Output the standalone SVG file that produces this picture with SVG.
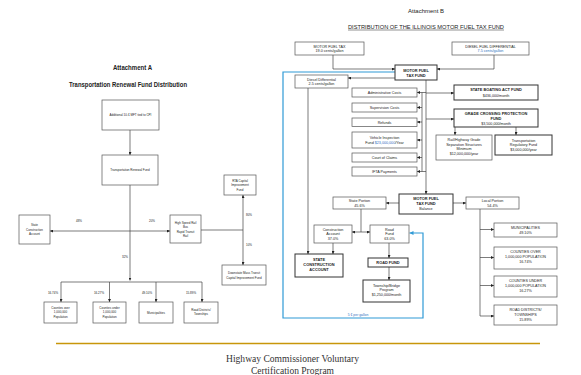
<svg xmlns="http://www.w3.org/2000/svg" width="581" height="375" viewBox="0 0 581 375">
<defs>
<marker id="ah" viewBox="0 0 6 6" refX="6" refY="3" markerWidth="3" markerHeight="3" orient="auto" markerUnits="userSpaceOnUse"><path d="M0,0 L6,3 L0,6 z" fill="#222"/></marker>
<marker id="ahb" viewBox="0 0 6 6" refX="6" refY="3" markerWidth="4" markerHeight="4" orient="auto" markerUnits="userSpaceOnUse"><path d="M0,0 L6,3 L0,6 z" fill="#2f9ad6"/></marker>
<style>
text{font-family:"Liberation Sans",Arial,sans-serif;fill:#222;text-anchor:middle}
.t{font-size:3px}
.s{font-size:3.7px}
.b{font-size:3.9px;font-weight:bold}
.h{font-size:7px;font-weight:bold}
.bl{fill:#2f6fc0}
rect{fill:#fff;stroke:#555;stroke-width:0.7}
rect.k{stroke:#333;stroke-width:1}
.c line,.c path,.c polyline{stroke:#444;stroke-width:0.7;fill:none}
.c .blue{stroke:#2f9ad6;stroke-width:1.2}
.f{font-family:"Liberation Serif","Times New Roman",serif;font-size:9.5px;fill:#333}
</style>
</defs>
<rect x="0" y="0" width="581" height="375" style="fill:#fff;stroke:none"/>

<!-- Left panel titles -->
<text class="h" x="132.5" y="70" textLength="39" lengthAdjust="spacingAndGlyphs">Attachment A</text>
<text class="h" x="128" y="86.5" textLength="118" lengthAdjust="spacingAndGlyphs">Transportation Renewal Fund Distribution</text>

<!-- Left panel connectors -->
<g class="c" id="left-connectors">
<line x1="130" y1="130" x2="130" y2="155" marker-end="url(#ah)"/>
<line x1="130" y1="185" x2="130" y2="280.5" marker-end="url(#ah)"/>
<line x1="130" y1="231" x2="50" y2="231" marker-end="url(#ah)"/>
<line x1="130" y1="231" x2="170" y2="231" marker-end="url(#ah)"/>
<line x1="201" y1="230" x2="243" y2="230"/>
<line x1="243" y1="230" x2="243" y2="195" marker-end="url(#ah)"/>
<line x1="243" y1="230" x2="243" y2="265" marker-end="url(#ah)"/>
<line x1="61" y1="282" x2="202" y2="282"/>
<line x1="61" y1="282" x2="61" y2="302" marker-end="url(#ah)"/>
<line x1="109.5" y1="282" x2="109.5" y2="302" marker-end="url(#ah)"/>
<line x1="156" y1="282" x2="156" y2="302" marker-end="url(#ah)"/>
<line x1="202" y1="282" x2="202" y2="302" marker-end="url(#ah)"/>
</g>
<g id="left-labels">
<text class="t" x="79" y="221.5">48%</text>
<text class="t" x="152" y="221.5">20%</text>
<text class="t" x="125" y="257.5">32%</text>
<text class="t" x="249" y="216">80%</text>
<text class="t" x="249" y="246">10%</text>
<text class="t" x="53" y="293.5">16.74%</text>
<text class="t" x="99" y="294">16.27%</text>
<text class="t" x="147" y="293.5">49.10%</text>
<text class="t" x="191" y="293.5">15.89%</text>
</g>

<g id="a-additional"><rect x="102" y="100" width="57" height="30"/><text class="t" x="130.5" y="116">Additional 10-¢ MFT tied to CPI</text></g>
<g id="a-trf"><rect x="102" y="155" width="56" height="30"/><text class="t" x="130" y="171">Transportation Renewal Fund</text></g>
<g id="a-sca"><rect x="19" y="215" width="31" height="29"/><text class="t" x="34.5" y="226">State</text><text class="t" x="34.5" y="230.5">Construction</text><text class="t" x="34.5" y="235">Account</text></g>
<g id="a-hsr"><rect x="170" y="215" width="31" height="28"/><text class="t" x="185.5" y="223.5">High Speed Rail</text><text class="t" x="185.5" y="228">Bus</text><text class="t" x="185.5" y="232.5">Rapid Transit</text><text class="t" x="185.5" y="237">Rail</text></g>
<g id="a-rta"><rect x="224" y="175" width="32" height="20"/><text class="t" x="240" y="181.5">RTA Capital</text><text class="t" x="240" y="186">Improvement</text><text class="t" x="240" y="190.5">Fund</text></g>
<g id="a-downstate"><rect x="222" y="265" width="44" height="20"/><text class="t" x="244" y="274">Downstate Mass Transit</text><text class="t" x="244" y="278.5">Capital Improvement Fund</text></g>
<g id="a-cover"><rect x="44" y="302" width="33" height="21"/><text class="t" x="60.5" y="308.5">Counties over</text><text class="t" x="60.5" y="313">1,000,000</text><text class="t" x="60.5" y="317.5">Population</text></g>
<g id="a-cunder"><rect x="93" y="302" width="33" height="21"/><text class="t" x="109.5" y="308.5">Counties under</text><text class="t" x="109.5" y="313">1,000,000</text><text class="t" x="109.5" y="317.5">Population</text></g>
<g id="a-muni"><rect x="139" y="302" width="34" height="21"/><text class="t" x="156" y="313.5">Municipalities</text></g>
<g id="a-road"><rect x="184" y="302" width="34" height="21"/><text class="t" x="201" y="310.5">Road Districts/</text><text class="t" x="201" y="315">Townships</text></g>

<!-- Right panel titles -->
<text x="426" y="12.5" style="font-size:5px" textLength="36" lengthAdjust="spacingAndGlyphs">Attachment  B</text>
<text x="426" y="28.5" style="font-size:5.5px" textLength="156" lengthAdjust="spacingAndGlyphs">DISTRIBUTION OF THE ILLINOIS MOTOR FUEL TAX FUND</text>
<line x1="348" y1="30" x2="504" y2="30" style="stroke:#222;stroke-width:0.5"/>

<!-- Right panel connectors -->
<g class="c" id="right-connectors">
<polyline points="333,55 333,69 395,69" marker-end="url(#ah)"/>
<polyline points="494,55 494,69 437,69" marker-end="url(#ah)"/>
<line x1="395" y1="78" x2="348" y2="78" marker-end="url(#ah)"/>
<polyline class="blue" points="395,72 283,72 283,318 423,318 423,233 409.5,233" marker-end="url(#ahb)"/>
<line x1="308" y1="88" x2="308" y2="254" marker-end="url(#ah)"/>
<line x1="426" y1="80" x2="426" y2="194" marker-end="url(#ah)"/>
<polyline points="426,92.5 422,92.5 422,171.5 426,171.5"/>
<line x1="422" y1="92.5" x2="417" y2="92.5" marker-end="url(#ah)"/>
<line x1="422" y1="107.5" x2="417" y2="107.5" marker-end="url(#ah)"/>
<line x1="422" y1="122" x2="417" y2="122" marker-end="url(#ah)"/>
<line x1="422" y1="140" x2="417" y2="140" marker-end="url(#ah)"/>
<line x1="422" y1="157.5" x2="417" y2="157.5" marker-end="url(#ah)"/>
<line x1="422" y1="171.5" x2="417" y2="171.5" marker-end="url(#ah)"/>
<line x1="426" y1="93" x2="454" y2="93" marker-end="url(#ah)"/>
<line x1="426" y1="119" x2="454" y2="119" marker-end="url(#ah)"/>
<line x1="455" y1="127" x2="455" y2="135" marker-end="url(#ah)"/>
<line x1="516" y1="127" x2="516" y2="135" marker-end="url(#ah)"/>
<line x1="399" y1="203" x2="386" y2="203" marker-end="url(#ah)"/>
<line x1="453" y1="203" x2="466" y2="203" marker-end="url(#ah)"/>
<polyline points="361,209 361,232"/>
<line x1="361" y1="232" x2="352" y2="232" marker-end="url(#ah)"/>
<line x1="361" y1="232" x2="370" y2="232" marker-end="url(#ah)"/>
<line x1="333" y1="243" x2="333" y2="254" marker-end="url(#ah)"/>
<line x1="389" y1="243" x2="389" y2="258" marker-end="url(#ah)"/>
<line x1="389" y1="267" x2="389" y2="280" marker-end="url(#ah)"/>
<line x1="480" y1="209" x2="480" y2="316"/>
<line x1="480" y1="229.5" x2="494" y2="229.5" marker-end="url(#ah)"/>
<line x1="480" y1="257.5" x2="494" y2="257.5" marker-end="url(#ah)"/>
<line x1="480" y1="285.5" x2="494" y2="285.5" marker-end="url(#ah)"/>
<line x1="480" y1="316" x2="494" y2="316" marker-end="url(#ah)"/>
</g>
<text class="bl" x="358" y="315.6" style="font-size:3.4px">5 ¢ per gallon</text>

<g id="b-mft"><rect x="295" y="42" width="69" height="13"/><text class="s" x="329.5" y="47.5">MOTOR FUEL TAX</text><text class="s" x="329.5" y="52">19.0 cents/gallon</text></g>
<g id="b-diesel"><rect x="452" y="42" width="77" height="13"/><text class="s" x="490.5" y="47.5">DIESEL FUEL DIFFERENTIAL</text><text class="s bl" x="490.5" y="52">7.5 cents/gallon</text></g>
<g id="b-mftfund"><rect class="k" x="395" y="65" width="42" height="15"/><text class="b" x="416" y="71.5">MOTOR FUEL</text><text class="b" x="416" y="76.5">TAX FUND</text></g>
<g id="b-dd"><rect x="295" y="75" width="53" height="13"/><text class="s" x="321.5" y="80.5">Diesel Differential</text><text class="s" x="321.5" y="85">2.5 cents/gallon</text></g>
<g id="b-admin"><rect x="352" y="88" width="65" height="9"/><text class="s" x="384.5" y="94">Administrative Costs</text></g>
<g id="b-super"><rect x="352" y="103" width="65" height="9"/><text class="s" x="384.5" y="109">Supervision Costs</text></g>
<g id="b-refunds"><rect x="352" y="118" width="65" height="8.5"/><text class="s" x="384.5" y="123.5">Refunds</text></g>
<g id="b-vehicle"><rect x="352" y="132" width="65" height="16"/><text class="s" x="384.5" y="138.5">Vehicle Inspection</text><text class="s" x="384.5" y="143.5">Fund <tspan class="bl">$23,000,000</tspan>/Year</text></g>
<g id="b-court"><rect x="352" y="153" width="65" height="9"/><text class="s" x="384.5" y="159">Court of Claims</text></g>
<g id="b-ifta"><rect x="352" y="167" width="65" height="9"/><text class="s" x="384.5" y="173">IFTA Payments</text></g>
<g id="b-boating"><rect class="k" x="454" y="85" width="84" height="15"/><text class="b" x="496" y="91">STATE BOATING ACT FUND</text><text class="s" x="496" y="96.5">$436,000/month</text></g>
<g id="b-grade"><rect class="k" x="454" y="109" width="84" height="18"/><text class="b" x="496" y="114.5">GRADE CROSSING PROTECTION</text><text class="b" x="496" y="119.5">FUND</text><text class="s" x="496" y="124.5">$3,500,000/month</text></g>
<g id="b-rail"><rect x="436" y="135" width="56" height="25"/><text class="s" x="464" y="141">Rail/Highway Grade</text><text class="s" x="464" y="145.5">Separation Structures</text><text class="s" x="464" y="150">Minimum</text><text class="s" x="464" y="155">$12,000,000/year</text></g>
<g id="b-regfund"><rect class="k" x="495" y="135" width="57" height="20"/><text class="s" x="523.5" y="141.5">Transportation</text><text class="s" x="523.5" y="146">Regulatory Fund</text><text class="s" x="523.5" y="150.5">$3,000,000/year</text></g>
<g id="b-balance"><rect class="k" x="399" y="194" width="54" height="20"/><text class="b" x="426" y="200">MOTOR FUEL</text><text class="b" x="426" y="205">TAX FUND</text><text class="s" x="426" y="210">Balance</text></g>
<g id="b-state"><rect x="333" y="197" width="53" height="12"/><text class="s" x="359.5" y="202">State Portion</text><text class="s" x="359.5" y="206.5">45.6%</text></g>
<g id="b-local"><rect x="466" y="197" width="53" height="12"/><text class="s" x="492.5" y="202">Local Portion</text><text class="s" x="492.5" y="206.5">54.4%</text></g>
<g id="b-constr"><rect x="314" y="225" width="38" height="18"/><text class="s" x="333" y="230.5">Construction</text><text class="s" x="333" y="235">Account</text><text class="s" x="333" y="239.5">37.0%</text></g>
<g id="b-roadfund63"><rect x="370" y="225" width="39" height="18"/><text class="s" x="389.5" y="230.5">Road</text><text class="s" x="389.5" y="235">Fund</text><text class="s" x="389.5" y="239.5">63.0%</text></g>
<g id="b-sca"><rect class="k" x="295" y="254" width="48" height="23"/><text class="b" x="319" y="261">STATE</text><text class="b" x="319" y="266">CONSTRUCTION</text><text class="b" x="319" y="271">ACCOUNT</text></g>
<g id="b-roadfund"><rect class="k" x="368" y="258" width="40" height="9"/><text class="b" x="388" y="264">ROAD FUND</text></g>
<g id="b-township"><rect class="k" x="363" y="280" width="47" height="22"/><text class="s" x="386.5" y="286.5">Township/Bridge</text><text class="s" x="386.5" y="291">Program</text><text class="s" x="386.5" y="296">$1,250,000/month</text></g>
<g id="b-muni"><rect x="494" y="223" width="63" height="14"/><text class="s" x="525.5" y="229">MUNICIPALITIES</text><text class="s" x="525.5" y="233.5">49.10%</text></g>
<g id="b-cover"><rect x="494" y="247" width="63" height="22"/><text class="s" x="525.5" y="253">COUNTIES OVER</text><text class="s" x="525.5" y="258">1,000,000 POPULATION</text><text class="s" x="525.5" y="263">16.74%</text></g>
<g id="b-cunder"><rect x="494" y="276" width="63" height="21"/><text class="s" x="525.5" y="282">COUNTIES UNDER</text><text class="s" x="525.5" y="287">1,000,000 POPULATION</text><text class="s" x="525.5" y="292">16.27%</text></g>
<g id="b-road"><rect x="494" y="305" width="63" height="20"/><text class="s" x="525.5" y="311">ROAD DISTRICTS/</text><text class="s" x="525.5" y="316">TOWNSHIPS</text><text class="s" x="525.5" y="321">15.89%</text></g>

<!-- footer -->
<line x1="56" y1="343.5" x2="540" y2="343.5" style="stroke:#c8960a;stroke-width:1.5"/>
<text class="f" x="292.5" y="361.5" textLength="133" lengthAdjust="spacingAndGlyphs">Highway Commissioner Voluntary</text>
<text class="f" x="292.5" y="373.5" textLength="83" lengthAdjust="spacingAndGlyphs">Certification Program</text>
</svg>
